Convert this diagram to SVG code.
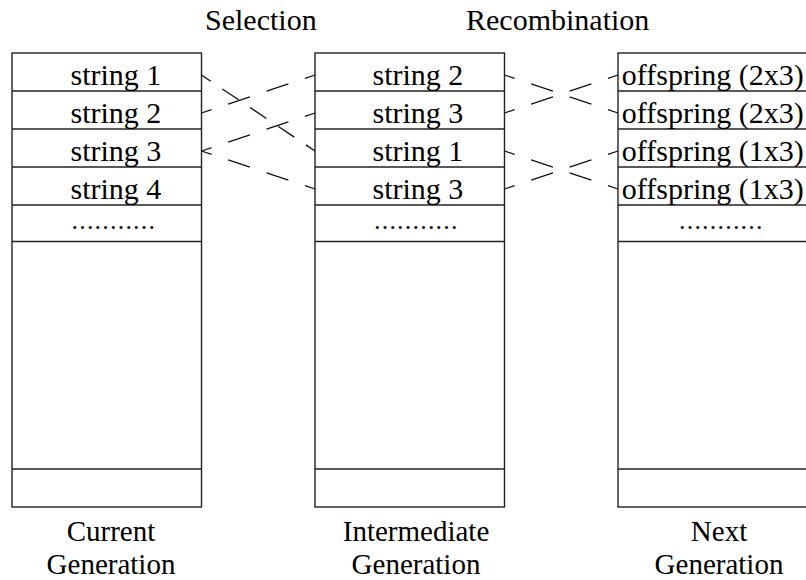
<svg xmlns="http://www.w3.org/2000/svg" width="806" height="580" viewBox="0 0 806 580">
  <style>
    .box { fill: #ffffff; stroke: #222222; stroke-width: 1.4; }
    .sep { stroke: #222222; stroke-width: 1.4; }
    .t { font-family: "Liberation Serif", "Times New Roman", serif; font-size: 30px; fill: #000000; }
    .c { text-anchor: middle; font-size: 29px; }
    .dots { font-size: 26px; letter-spacing: 1.2px; }
    .d1 { fill: none; stroke: #111111; stroke-width: 1.3; stroke-dasharray: 23 17.5; stroke-dashoffset: 12.4; }
    .d2 { fill: none; stroke: #111111; stroke-width: 1.3; stroke-dasharray: 19.5 14; stroke-dashoffset: 8.4; }
  </style>
  <rect width="806" height="580" fill="#ffffff"/>

  <g id="titles">
    <text class="t" x="205" y="30">Selection</text>
    <text class="t" x="466" y="30">Recombination</text>
  </g>

  <g id="current-generation">
    <rect class="box" x="12" y="53" width="189.5" height="454"/>
    <line class="sep" x1="12" y1="91" x2="201.5" y2="91"/>
    <line class="sep" x1="12" y1="129" x2="201.5" y2="129"/>
    <line class="sep" x1="12" y1="167" x2="201.5" y2="167"/>
    <line class="sep" x1="12" y1="205" x2="201.5" y2="205"/>
    <line class="sep" x1="12" y1="241.5" x2="201.5" y2="241.5"/>
    <line class="sep" x1="12" y1="469" x2="201.5" y2="469"/>
    <text class="t" x="70.5" y="84.5">string 1</text>
    <text class="t" x="70.5" y="122.5">string 2</text>
    <text class="t" x="70.5" y="160.5">string 3</text>
    <text class="t" x="70.5" y="198.5">string 4</text>
    <text class="t dots" x="71.5" y="229">...........</text>
    <text class="t c" x="111" y="541">Current</text>
    <text class="t c" x="111" y="574">Generation</text>
  </g>

  <g id="intermediate-generation">
    <rect class="box" x="315" y="53" width="189.5" height="454"/>
    <line class="sep" x1="315" y1="91" x2="504.5" y2="91"/>
    <line class="sep" x1="315" y1="129" x2="504.5" y2="129"/>
    <line class="sep" x1="315" y1="167" x2="504.5" y2="167"/>
    <line class="sep" x1="315" y1="205" x2="504.5" y2="205"/>
    <line class="sep" x1="315" y1="241.5" x2="504.5" y2="241.5"/>
    <line class="sep" x1="315" y1="469" x2="504.5" y2="469"/>
    <text class="t" x="372.5" y="84.5">string 2</text>
    <text class="t" x="372.5" y="122.5">string 3</text>
    <text class="t" x="372.5" y="160.5">string 1</text>
    <text class="t" x="372.5" y="198.5">string 3</text>
    <text class="t dots" x="374" y="229">...........</text>
    <text class="t c" x="416" y="541">Intermediate</text>
    <text class="t c" x="416" y="574">Generation</text>
  </g>

  <g id="next-generation">
    <rect class="box" x="618" y="53" width="189.5" height="454"/>
    <line class="sep" x1="618" y1="91" x2="807.5" y2="91"/>
    <line class="sep" x1="618" y1="129" x2="807.5" y2="129"/>
    <line class="sep" x1="618" y1="167" x2="807.5" y2="167"/>
    <line class="sep" x1="618" y1="205" x2="807.5" y2="205"/>
    <line class="sep" x1="618" y1="241.5" x2="807.5" y2="241.5"/>
    <line class="sep" x1="618" y1="469" x2="807.5" y2="469"/>
    <text class="t" x="621.8" y="84.5">offspring (2x3)</text>
    <text class="t" x="621.8" y="122.5">offspring (2x3)</text>
    <text class="t" x="621.8" y="160.5">offspring (1x3)</text>
    <text class="t" x="621.8" y="198.5">offspring (1x3)</text>
    <text class="t dots" x="679" y="229">...........</text>
    <text class="t c" x="719" y="541">Next</text>
    <text class="t c" x="719" y="574">Generation</text>
  </g>

  <g id="connectors">
    <line class="d2" x1="201.5" y1="75" x2="315" y2="151"/>
    <line class="d1" x1="201.5" y1="113" x2="315" y2="75"/>
    <line class="d1" x1="201.5" y1="151" x2="315" y2="113"/>
    <line class="d1" x1="201.5" y1="151" x2="315" y2="189"/>
    <line class="d1" x1="504.5" y1="75" x2="618" y2="113"/>
    <line class="d1" x1="504.5" y1="113" x2="618" y2="75"/>
    <line class="d1" x1="504.5" y1="151" x2="618" y2="189"/>
    <line class="d1" x1="504.5" y1="189" x2="618" y2="151"/>
  </g>
</svg>
